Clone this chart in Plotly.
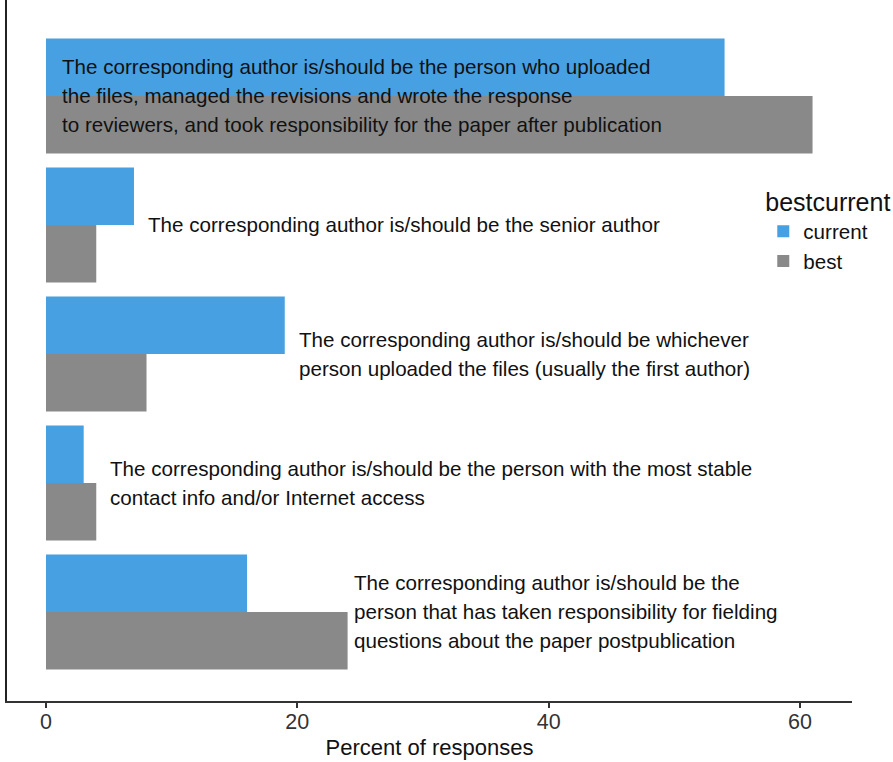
import plotly.graph_objects as go

categories = [
    "uploaded files, managed revisions, responded, took responsibility",
    "senior author",
    "whoever uploaded the files",
    "most stable contact info",
    "fielding questions postpublication",
]
current_values = [54, 7, 19, 3, 16]
best_values = [61, 4, 8, 4, 24]
label_lines = [
    ["The corresponding author is/should be the person who uploaded",
     "the files, managed the revisions and wrote the response",
     "to reviewers, and took responsibility for the paper after publication"],
    ["The corresponding author is/should be the senior author"],
    ["The corresponding author is/should be whichever",
     "person uploaded the files (usually the first author)"],
    ["The corresponding author is/should be the person with the most stable",
     "contact info and/or Internet access"],
    ["The corresponding author is/should be the",
     "person that has taken responsibility for fielding",
     "questions about the paper postpublication"],
]
series_names = ["current", "best"]
series_colors = ["#46a0e1", "#898989"]
x_ticks = [0, 20, 40, 60]
x_title = "Percent of responses"
legend_title = "bestcurrent"

FONT = "Liberation Sans, Arial, Helvetica, sans-serif"

fig = go.Figure()
for name, vals, col in zip(series_names, [current_values, best_values], series_colors):
    fig.add_trace(go.Bar(
        y=categories, x=vals, name=name, orientation="h",
        marker=dict(color=col, line=dict(width=0)),
    ))

# horizontal gap (in axis units) between the longer bar and its label
label_gaps = [None, 0.95, 0.95, 0.9, 0.35]
line_px = 29
for i, (lines, c, b) in enumerate(zip(label_lines, current_values, best_values)):
    # first label sits inside its long bars, others just right of the bars
    x_pos = 1.1 if label_gaps[i] is None else max(c, b) + label_gaps[i]
    n = len(lines)
    for j, line in enumerate(lines):
        fig.add_annotation(
            x=x_pos, y=categories[i], xref="x", yref="y",
            text=line, showarrow=False, xanchor="left", yanchor="middle",
            yshift=((n - 1) / 2 - j) * line_px,
            font=dict(family=FONT, size=20.6, color="#111111"),
        )

fig.update_layout(
    width=893, height=762,
    margin=dict(l=7, r=41, t=0, b=61, autoexpand=False),
    paper_bgcolor="white", plot_bgcolor="white",
    barmode="group", bargap=0.109, bargroupgap=0,
    font=dict(family=FONT, size=20.6, color="#111111"),
    showlegend=True,
    legend=dict(
        title=dict(text=legend_title, font=dict(size=25, color="#111111")),
        font=dict(size=20.6, color="#111111"),
        x=0.895, xanchor="left", y=0.745, yanchor="top",
        traceorder="normal", bgcolor="rgba(0,0,0,0)",
        itemsizing="constant", tracegroupgap=0,
    ),
    xaxis=dict(
        range=[-3.103, 64.14], tickvals=x_ticks, ticktext=[str(t) for t in x_ticks],
        showgrid=False, zeroline=False, showline=True, linecolor="#333333", linewidth=1.8,
        ticks="outside", ticklen=5, tickwidth=1.8, tickcolor="#333333",
        tickfont=dict(size=21.5, color="#333333"), ticklabelstandoff=-5,
        title=dict(text=x_title, font=dict(size=22, color="#111111"), standoff=7),
        automargin=False,
    ),
    yaxis=dict(
        categoryorder="array", categoryarray=categories,
        range=[4.690, -0.744], showticklabels=False, ticks="",
        showgrid=False, zeroline=False, showline=True, linecolor="#222222", linewidth=1.8,
        automargin=False,
    ),
)

fig.write_html("out.html", config={"displayModeBar": False},
               post_script="document.body.style.margin='0';")
